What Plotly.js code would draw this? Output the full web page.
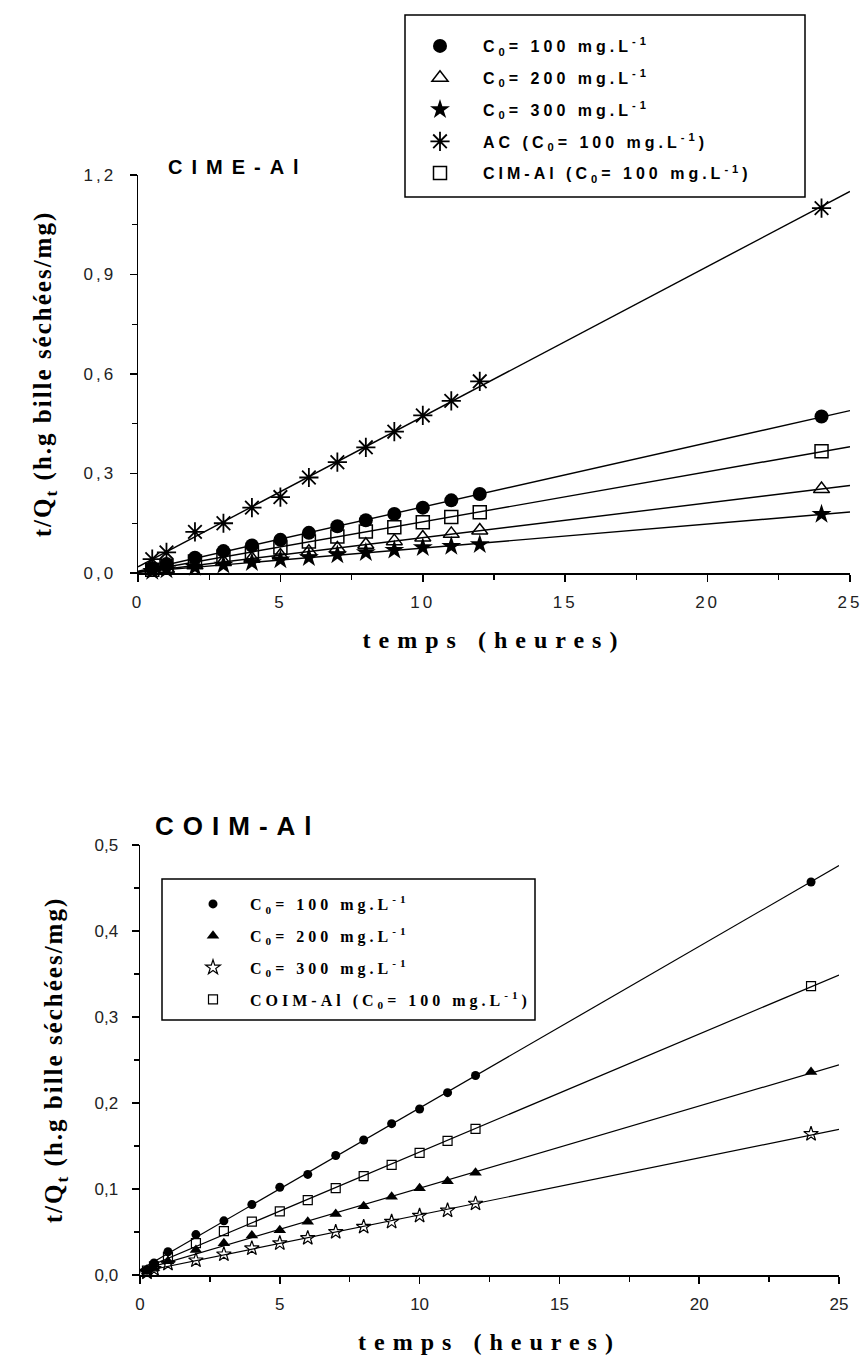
<!DOCTYPE html>
<html>
<head>
<meta charset="utf-8">
<script src="https://cdn.plot.ly/plotly-3.0.1.min.js"></script>
<style>
  body { margin: 0; background: #fff; }
  #chart { width: 865px; height: 1362px; }
  .legendtext { letter-spacing: 4px; }
  .legend2text { letter-spacing: 4px; }
  .annotation-text { letter-spacing: 9px; }
  .xtitle, .x2title { letter-spacing: 8px; }
  .ytitle, .y2title { letter-spacing: 2px; }
  .xtick text, .ytick text { letter-spacing: 3px; }
</style>
</head>
<body>
<div id="chart"></div>
<script>
// ---- CIME-Al kinetics (upper panel) ----
const timesTop = [0.5, 1, 2, 3, 4, 5, 6, 7, 8, 9, 10, 11, 12, 24];
const cime100 = [0.014, 0.027, 0.046, 0.066, 0.083, 0.100, 0.121, 0.141, 0.159, 0.178, 0.197, 0.219, 0.238, 0.472];
const cime200 = [0.007, 0.013, 0.023, 0.033, 0.043, 0.053, 0.064, 0.074, 0.085, 0.096, 0.107, 0.118, 0.128, 0.253];
const cime300 = [0.005, 0.010, 0.017, 0.024, 0.032, 0.040, 0.047, 0.055, 0.062, 0.069, 0.077, 0.081, 0.086, 0.177];
const acRef   = [0.042, 0.062, 0.124, 0.150, 0.197, 0.229, 0.288, 0.334, 0.379, 0.426, 0.475, 0.519, 0.578, 1.100];
const cimAl   = [0.010, 0.020, 0.035, 0.049, 0.062, 0.077, 0.095, 0.110, 0.125, 0.138, 0.153, 0.169, 0.183, 0.367];

// ---- COIM-Al kinetics (lower panel) ----
const timesBot = [0.25, 0.5, 1, 2, 3, 4, 5, 6, 7, 8, 9, 10, 11, 12, 24];
const coim100 = [0.006, 0.014, 0.027, 0.047, 0.063, 0.082, 0.102, 0.117, 0.139, 0.157, 0.176, 0.193, 0.212, 0.232, 0.457];
const coim200 = [0.004, 0.008, 0.016, 0.029, 0.037, 0.046, 0.052, 0.062, 0.071, 0.080, 0.091, 0.101, 0.109, 0.119, 0.236];
const coim300 = [0.003, 0.007, 0.013, 0.017, 0.024, 0.031, 0.037, 0.043, 0.050, 0.056, 0.062, 0.069, 0.075, 0.083, 0.164];
const coimAl  = [0.005, 0.010, 0.021, 0.037, 0.051, 0.062, 0.074, 0.087, 0.101, 0.115, 0.128, 0.142, 0.156, 0.170, 0.336];

const timeRange = [0, 25];

const namesTop = [
  'C<sub>0</sub>= 100 mg.L<sup>-1</sup>',
  'C<sub>0</sub>= 200 mg.L<sup>-1</sup>',
  'C<sub>0</sub>= 300 mg.L<sup>-1</sup>',
  'AC (C<sub>0</sub>= 100 mg.L<sup>-1</sup>)',
  'CIM-Al (C<sub>0</sub>= 100 mg.L<sup>-1</sup>)'
];
const namesBot = [
  'C<sub>0</sub>= 100 mg.L<sup>-1</sup>',
  'C<sub>0</sub>= 200 mg.L<sup>-1</sup>',
  'C<sub>0</sub>= 300 mg.L<sup>-1</sup>',
  'COIM-Al (C<sub>0</sub>= 100 mg.L<sup>-1</sup>)'
];

// least-squares straight line t/Qt = a + b t (pseudo-second-order linear form)
function linearFit(xs, ys) {
  const n = xs.length;
  let sx = 0, sy = 0, sxx = 0, sxy = 0;
  for (let i = 0; i < n; i++) { sx += xs[i]; sy += ys[i]; sxx += xs[i] * xs[i]; sxy += xs[i] * ys[i]; }
  const b = (n * sxy - sx * sy) / (n * sxx - sx * sx);
  const a = (sy - b * sx) / n;
  return { a, b };
}

function fitTrace(xs, ys, xa, ya, width) {
  const f = linearFit(xs, ys);
  return {
    x: timeRange.slice(),
    y: timeRange.map(t => f.a + f.b * t),
    xaxis: xa, yaxis: ya,
    mode: 'lines', showlegend: false, hoverinfo: 'skip',
    line: { color: '#000', width: width }
  };
}

function pointTrace(xs, ys, name, marker, xa, ya, legendId, group) {
  return {
    x: xs, y: ys, name: name,
    xaxis: xa, yaxis: ya,
    mode: 'markers', cliponaxis: false,
    legend: legendId, legendgroup: group,
    marker: marker
  };
}

const blk = '#000';
const topSeries = [
  [cime100, { symbol: 'circle', size: 14, color: blk }],
  [cime200, { symbol: 'triangle-up-open', size: 14, color: blk, line: { color: blk, width: 1.5 } }],
  [cime300, { symbol: 'star', size: 15, color: blk }],
  [acRef,   { symbol: 'asterisk-open', size: 16, color: blk, line: { color: blk, width: 1.8 } }],
  [cimAl,   { symbol: 'square-open', size: 13, color: blk, line: { color: blk, width: 1.5 } }]
];
const botSeries = [
  [coim100, { symbol: 'circle', size: 9, color: blk }],
  [coim200, { symbol: 'triangle-up', size: 11, color: blk }],
  [coim300, { symbol: 'star-open', size: 11, color: blk, line: { color: blk, width: 1.2 } }],
  [coimAl,  { symbol: 'square-open', size: 9, color: blk, line: { color: blk, width: 1.2 } }]
];

const data = [];
topSeries.forEach(([ys]) => data.push(fitTrace(timesTop, ys, 'x', 'y', 1.4)));
topSeries.forEach(([ys, mk], i) => data.push(pointTrace(timesTop, ys, namesTop[i], mk, 'x', 'y', 'legend', 't' + i)));
botSeries.forEach(([ys]) => data.push(fitTrace(timesBot, ys, 'x2', 'y2', 1.2)));
botSeries.forEach(([ys, mk], i) => data.push(pointTrace(timesBot, ys, namesBot[i], mk, 'x2', 'y2', 'legend2', 'b' + i)));

const W = 865, H = 1362;
const fx = p => p / W;
const fy = p => 1 - p / H;

const tickFont = { family: 'Liberation Sans, Arial, sans-serif', size: 17, color: '#222' };
const titleFont = { family: 'Liberation Serif, Times New Roman, serif', size: 25, color: '#000', weight: 'bold' };
const xTitleFont = { family: 'Liberation Serif, Times New Roman, serif', size: 24, color: '#000', weight: 'bold' };

function xAxis(domain, anchor) {
  return {
    domain: domain, anchor: anchor, range: timeRange, dtick: 5, tick0: 0,
    showline: true, linecolor: '#000', linewidth: 1.5,
    ticks: 'outside', ticklen: 7, tickwidth: 1.5, tickcolor: '#000',
    minor: { dtick: 2.5, ticks: 'outside', ticklen: 5, tickwidth: 1.2, tickcolor: '#000' },
    showgrid: false, zeroline: false, tickfont: tickFont, ticklabelstandoff: 6,
    title: { text: 'temps (heures)', font: xTitleFont, standoff: 20 }
  };
}
function yAxis(domain, anchor, top, step) {
  return {
    domain: domain, anchor: anchor, range: [0, top], dtick: step, tick0: 0, tickformat: '.1f',
    showline: true, linecolor: '#000', linewidth: 1.5,
    ticks: 'outside', ticklen: 7, tickwidth: 1.5, tickcolor: '#000',
    minor: { dtick: step / 2, ticks: 'outside', ticklen: 5, tickwidth: 1.2, tickcolor: '#000' },
    showgrid: false, zeroline: false, tickfont: tickFont, ticklabelstandoff: 10,
    title: { text: 't/Q<sub>t</sub> (h.g bille séchées/mg)', font: titleFont, standoff: 24 }
  };
}

const layout = {
  width: W, height: H,
  margin: { l: 0, r: 0, t: 0, b: 0 },
  paper_bgcolor: '#fff', plot_bgcolor: '#fff',
  separators: ', ',
  showlegend: true,
  xaxis: xAxis([fx(138), fx(850)], 'y'),
  yaxis: yAxis([fy(573), fy(175)], 'x', 1.2, 0.3),
  xaxis2: xAxis([fx(140), fx(839)], 'y2'),
  yaxis2: yAxis([fy(1275), fy(845)], 'x2', 0.5, 0.1),
  legend: {
    x: fx(397), y: fy(29), xanchor: 'left', yanchor: 'top',
    bgcolor: 'rgba(0,0,0,0)', borderwidth: 0,
    itemwidth: 76, tracegroupgap: 8,
    font: { family: 'Liberation Sans, Arial, sans-serif', size: 16, color: '#000', weight: 'bold' }
  },
  legend2: {
    x: fx(176), y: fy(887), xanchor: 'left', yanchor: 'top',
    bgcolor: 'rgba(0,0,0,0)', borderwidth: 0,
    itemwidth: 64, tracegroupgap: 8,
    font: { family: 'Liberation Serif, Times New Roman, serif', size: 16, color: '#000', weight: 'bold' }
  },
  shapes: [
    { type: 'rect', xref: 'paper', yref: 'paper', x0: fx(405), x1: fx(805), y0: fy(197), y1: fy(15),
      line: { color: '#000', width: 1.5 }, fillcolor: 'rgba(0,0,0,0)' },
    { type: 'rect', xref: 'paper', yref: 'paper', x0: fx(162), x1: fx(535), y0: fy(1020), y1: fy(879),
      line: { color: '#000', width: 1.5 }, fillcolor: 'rgba(0,0,0,0)' }
  ],
  annotations: [
    { text: 'CIME-Al', xref: 'paper', yref: 'paper', x: fx(166), y: fy(167), xanchor: 'left', yanchor: 'middle',
      showarrow: false, font: { family: 'Liberation Sans, Arial, sans-serif', size: 20, color: '#000', weight: 'bold' } },
    { text: 'COIM-Al', xref: 'paper', yref: 'paper', x: fx(153), y: fy(826), xanchor: 'left', yanchor: 'middle',
      showarrow: false, font: { family: 'Liberation Sans, Arial, sans-serif', size: 26, color: '#000', weight: 'bold' } }
  ]
};

Plotly.newPlot('chart', data, layout, { displayModeBar: false, staticPlot: true });
</script>
</body>
</html>
